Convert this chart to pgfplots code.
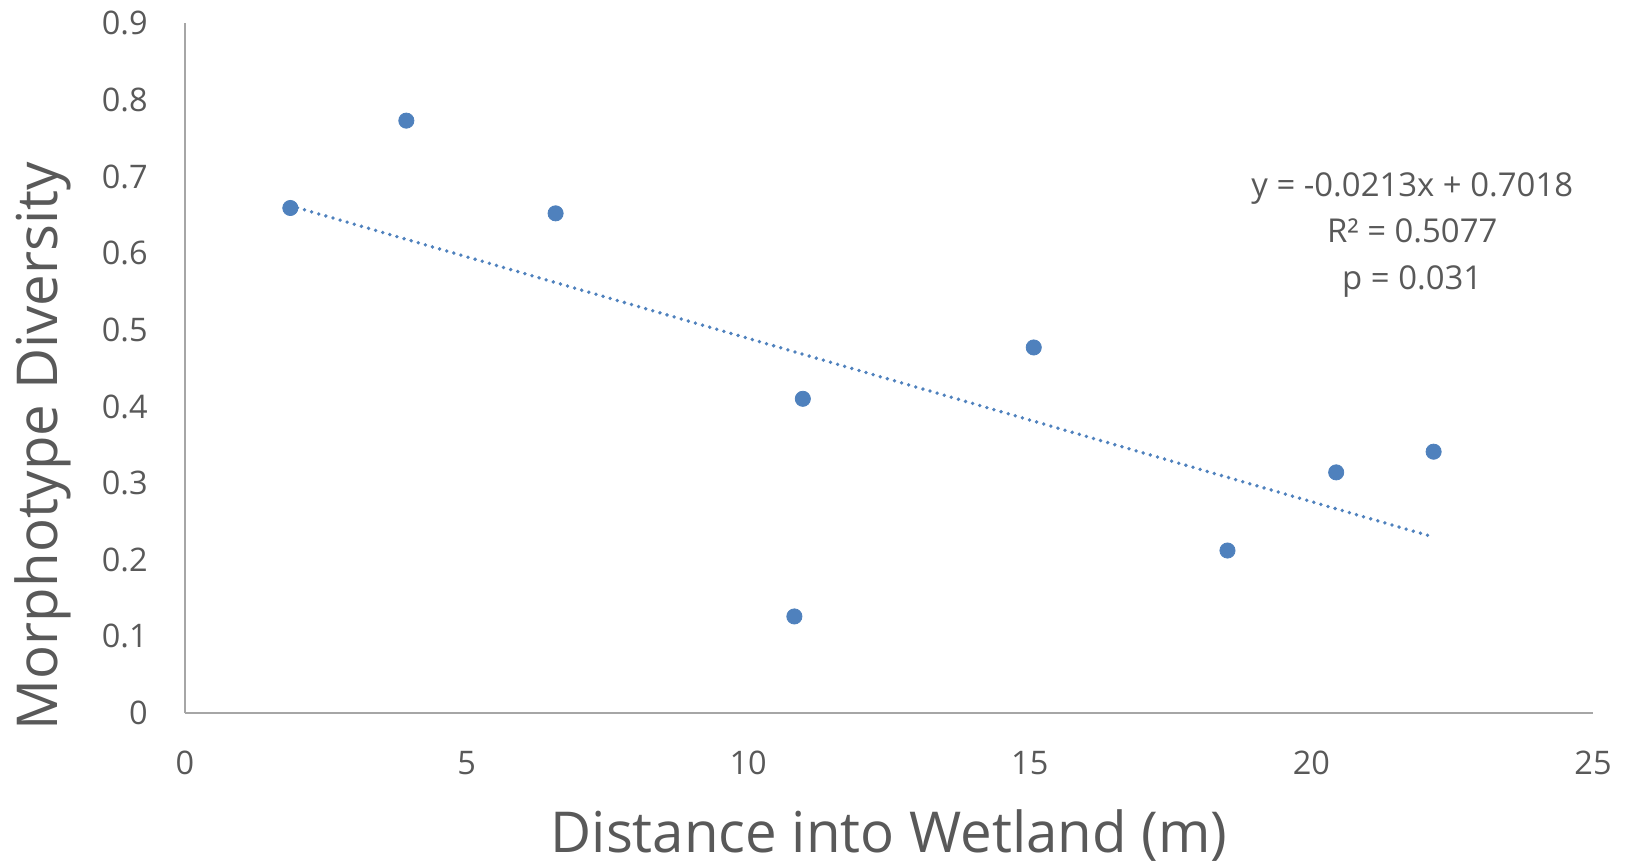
\documentclass[border=0pt]{standalone}
\usepackage{pgfplots}
\pgfplotsset{compat=1.18}
\usepackage{fontspec}
\setmainfont{Open Sans}
\definecolor{txt}{HTML}{595959}
\definecolor{axl}{HTML}{A6A6A6}
\definecolor{pts}{HTML}{4F81BD}
\begin{document}
\begin{tikzpicture}
\path[use as bounding box] (-92.5bp,-77bp) rectangle (724bp,356.5bp);
\begin{axis}[
  at={(0,0)}, anchor=south west,
  scale only axis, width=704bp, height=344.85bp,
  xmin=0, xmax=25, ymin=0, ymax=0.9,
  xtick={0,5,...,25}, ytick={0,0.1,...,0.9},
  axis lines*=left,
  axis line style={draw=axl, line width=1.3bp},
  major tick length=0pt,
  clip=false,
  /pgf/number format/assume math mode=true,
  yticklabel style={/pgf/number format/.cd, fixed, precision=1, /tikz/.cd},
  tick label style={font=\fontsize{16.3}{19}\selectfont, text=txt, inner sep=0pt},
  xticklabel style={yshift=-19bp},
  yticklabel style={xshift=-18.5bp},
  xlabel={Distance into Wetland (m)},
  ylabel={Morphotype Diversity},
  label style={font=\fontsize{28.3}{34}\selectfont, text=txt, inner sep=0pt},
  xlabel style={at={(axis description cs:0.5,0)}, anchor=base, yshift=-69.5bp},
  ylabel style={at={([xshift=-63.7bp]axis description cs:0,0.387)}, anchor=base, rotate=0},
]
\addplot[only marks, mark=*, mark size=3.8bp, mark options={fill=pts, draw=pts}] coordinates {
  (1.87,0.659) (3.93,0.773) (6.58,0.652) (10.97,0.410) (10.82,0.126)
  (15.07,0.477) (18.51,0.212) (20.44,0.314) (22.17,0.341)
};
\addplot[draw=pts, line width=1.9bp, line cap=round, dash pattern=on 0pt off 3.7bp] coordinates {
  (1.87,0.6620) (22.17,0.2296)
};
\node[align=center, font=\fontsize{16.5}{23.3}\selectfont, text=txt, anchor=center] at (axis cs:21.79,0.624)
  {y = -0.0213x + 0.7018\\R² = 0.5077\\p = 0.031};
\end{axis}
\end{tikzpicture}
\end{document}
